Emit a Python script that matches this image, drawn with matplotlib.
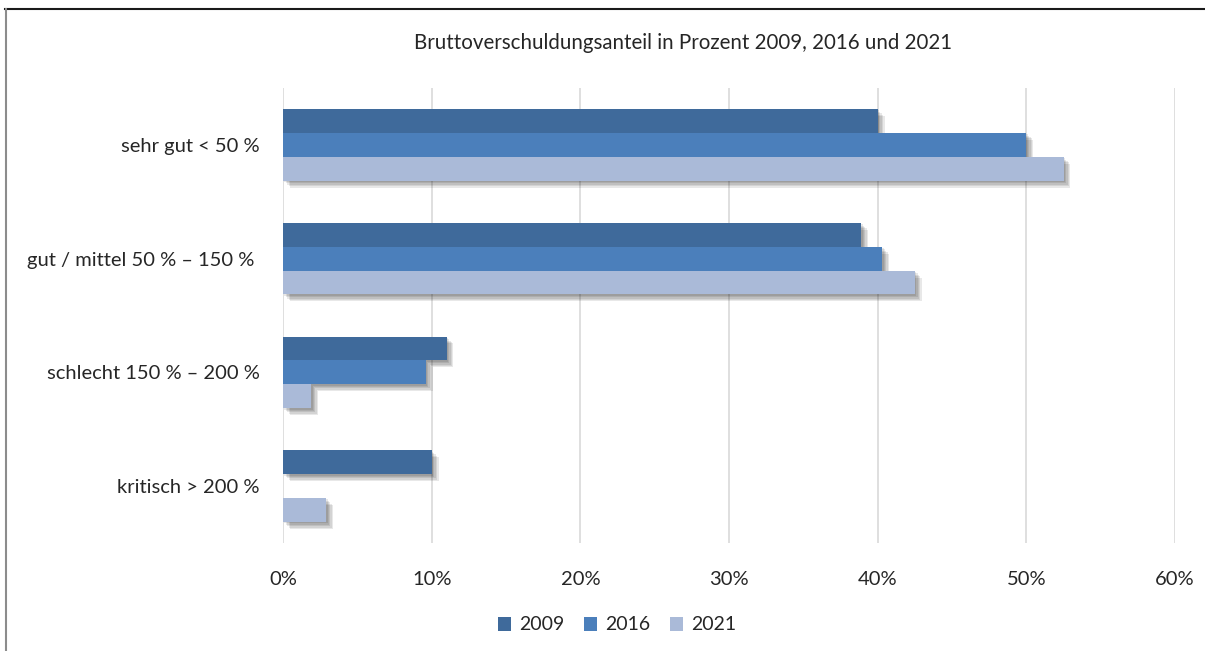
import numpy as np
import matplotlib
matplotlib.use("Agg")
import matplotlib.pyplot as plt
import matplotlib.patheffects as pe
from matplotlib.patches import Patch
from matplotlib.lines import Line2D
from matplotlib.ticker import FuncFormatter

plt.rcParams["font.family"] = ["Lato", "DejaVu Sans"]

categories = ["sehr gut < 50 %", "gut / mittel 50 % – 150 % ",
              "schlecht 150 % – 200 %", "kritisch > 200 %"]
years = ["2009", "2016", "2021"]
v2009 = [40.0, 38.9, 11.0, 10.0]
v2016 = [50.0, 40.3, 9.6, 0.0]
v2021 = [52.5, 42.5, 1.9, 2.9]
xticks = [0, 10, 20, 30, 40, 50, 60]

colors = ["#3F6A9B", "#4B7FBB", "#AABAD8"]
series = [v2009, v2016, v2021]

W, H = 1205, 651
fig = plt.figure(figsize=(W / 100, H / 100), dpi=100)
ax = fig.add_axes([283 / W, 1 - 543 / H, 892 / W, 455 / H])

y = np.arange(len(categories))
bh = 0.21
# soft drop shadow, built from a few faint offset copies
shadow = [pe.SimplePatchShadow(offset=(d, -d), shadow_rgbFace="k", alpha=0.09)
          for d in (1, 2, 3, 4, 5)] + [pe.Normal()]
for i, (vals, c) in enumerate(zip(series, colors)):
    bars = ax.barh(y + (i - 1) * bh, vals, height=bh, color=c, zorder=3)
    for b in bars:
        if b.get_width() > 0:
            b.set_path_effects(shadow)

ax.set_ylim(3.5, -0.5)
ax.set_xlim(0, 60)
ax.set_xticks(xticks)
ax.xaxis.set_major_formatter(FuncFormatter(lambda v, p: f"{v:.0f}%"))
ax.set_yticks(y)
ax.set_yticklabels(categories)
ax.grid(axis="x", color="#D9D9D9", lw=1.2, zorder=0)
ax.set_axisbelow(True)
for s in ax.spines.values():
    s.set_visible(False)
ax.tick_params(axis="both", length=0, labelsize=14.5, colors="#262626")
ax.tick_params(axis="x", pad=20)
ax.tick_params(axis="y", pad=17)

fig.text(683 / W, 1 - 43 / H, "Bruttoverschuldungsanteil in Prozent 2009, 2016 und 2021",
         ha="center", va="center", fontsize=14.8, color="#262626")

handles = [Patch(facecolor=c, label=yr) for c, yr in zip(colors, years)]
fig.legend(handles=handles, loc="center", bbox_to_anchor=(617 / W, 1 - 625 / H), ncol=3,
           frameon=False, fontsize=14, handlelength=0.7, handleheight=0.7,
           handletextpad=0.4, columnspacing=1.0, labelcolor="#262626")

# frame: dark top edge, grey left edge
fig.add_artist(Line2D([5 / W, 1], [1 - 9 / H, 1 - 9 / H], transform=fig.transFigure,
                      color="#1A1A1A", lw=1.5))
fig.add_artist(Line2D([6 / W, 6 / W], [0, 1 - 9 / H], transform=fig.transFigure,
                      color="#8C8C8C", lw=1.5))

fig.savefig("out.png", dpi=100)
